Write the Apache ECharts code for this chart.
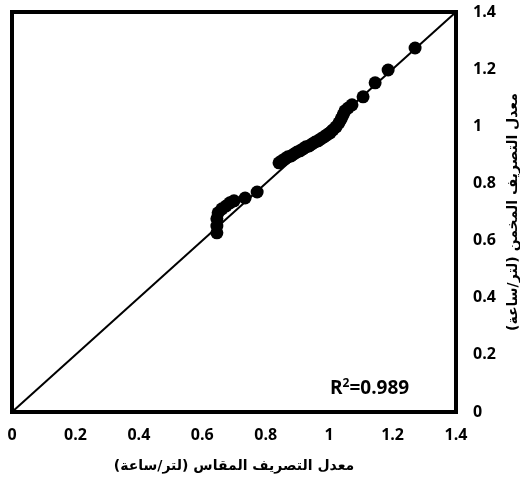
<!DOCTYPE html>
<html>
<head>
<meta charset="utf-8">
<script src="https://cdn.jsdelivr.net/npm/echarts@6/dist/echarts.min.js"></script>
<style>
  html, body { margin: 0; padding: 0; background: #fff; }
  #chart { width: 520px; height: 481px; }
</style>
</head>
<body>
<div id="chart"></div>
<script>
// Measured discharge (l/h)
const measured = [
  0.646, 0.646, 0.646, 0.650, 0.662, 0.675, 0.687, 0.700, 0.735, 0.773,
  0.842, 0.851, 0.861, 0.870, 0.880, 0.889, 0.899, 0.908, 0.918, 0.927,
  0.937, 0.946, 0.956, 0.965, 0.974, 0.984, 0.993, 1.003, 1.012, 1.022,
  1.031, 1.038, 1.044, 1.050, 1.060, 1.072, 1.107, 1.145, 1.186, 1.271
];
// Estimated discharge (l/h)
const estimated = [
  0.627, 0.651, 0.676, 0.697, 0.711, 0.721, 0.732, 0.739, 0.749, 0.770,
  0.872, 0.879, 0.886, 0.893, 0.896, 0.903, 0.910, 0.914, 0.921, 0.928,
  0.931, 0.938, 0.945, 0.949, 0.956, 0.963, 0.970, 0.977, 0.987, 0.998,
  1.012, 1.026, 1.040, 1.054, 1.064, 1.075, 1.103, 1.152, 1.197, 1.274
];
// 1:1 reference line
const lineX = [0, 1.4];
const lineY = [0, 1.4];
const r2Text = '0.989';

const xTitle = 'معدل التصريف المقاس (لتر/ساعة)';
const yTitle = 'معدل التصريف المخمن (لتر/ساعة)';

const NUM_FONT = "'Open Sans', 'DejaVu Sans', sans-serif";
const AR_FONT = "'DejaVu Sans', sans-serif";

const chart = echarts.init(document.getElementById('chart'), null, { renderer: 'canvas' });

const tickFmt = v => String(+v.toFixed(1));

const axisCommon = {
  min: 0, max: 1.4, interval: 0.2,
  axisLine: { show: false },
  axisTick: { show: false },
  splitLine: { show: false },
  nameLocation: 'middle',
  nameTextStyle: { fontFamily: AR_FONT, fontWeight: 'bold', fontSize: 14, color: '#000' },
  axisLabel: { formatter: tickFmt, fontFamily: NUM_FONT, fontWeight: 'bold', fontSize: 16, color: '#000' }
};

chart.setOption({
  animation: false,
  backgroundColor: '#fff',
  grid: {
    left: 12, right: 64, top: 12, bottom: 69,
    containLabel: false,
    outerBoundsMode: 'none',
    show: true, borderColor: '#000', borderWidth: 4, backgroundColor: 'transparent'
  },
  xAxis: Object.assign({}, axisCommon, {
    type: 'value',
    name: xTitle,
    nameGap: 47,
    axisLabel: Object.assign({}, axisCommon.axisLabel, { margin: 15 })
  }),
  yAxis: Object.assign({}, axisCommon, {
    type: 'value',
    position: 'right',
    name: yTitle,
    nameGap: 50,
    nameRotate: 90,
    axisLabel: Object.assign({}, axisCommon.axisLabel, { margin: 17 })
  }),
  series: [
    {
      type: 'line',
      data: lineX.map((x, i) => [x, lineY[i]]),
      symbol: 'none',
      lineStyle: { color: '#000', width: 2 },
      silent: true,
      z: 1
    },
    {
      type: 'scatter',
      data: measured.map((x, i) => [x, estimated[i]]),
      symbol: 'circle',
      symbolSize: 13,
      itemStyle: { color: '#000', opacity: 1 },
      z: 2
    }
  ],
  graphic: [{
    type: 'text',
    left: 330,
    top: 378,
    style: {
      text: '{b|R}{s|2}{b|=' + r2Text + '}',
      rich: {
        b: { fontFamily: NUM_FONT, fontWeight: 'bold', fontSize: 19, color: '#000', verticalAlign: 'bottom' },
        s: { fontFamily: NUM_FONT, fontWeight: 'bold', fontSize: 12, color: '#000', verticalAlign: 'top', padding: [0, 0, 8, 0] }
      }
    }
  }]
});
</script>
</body>
</html>
